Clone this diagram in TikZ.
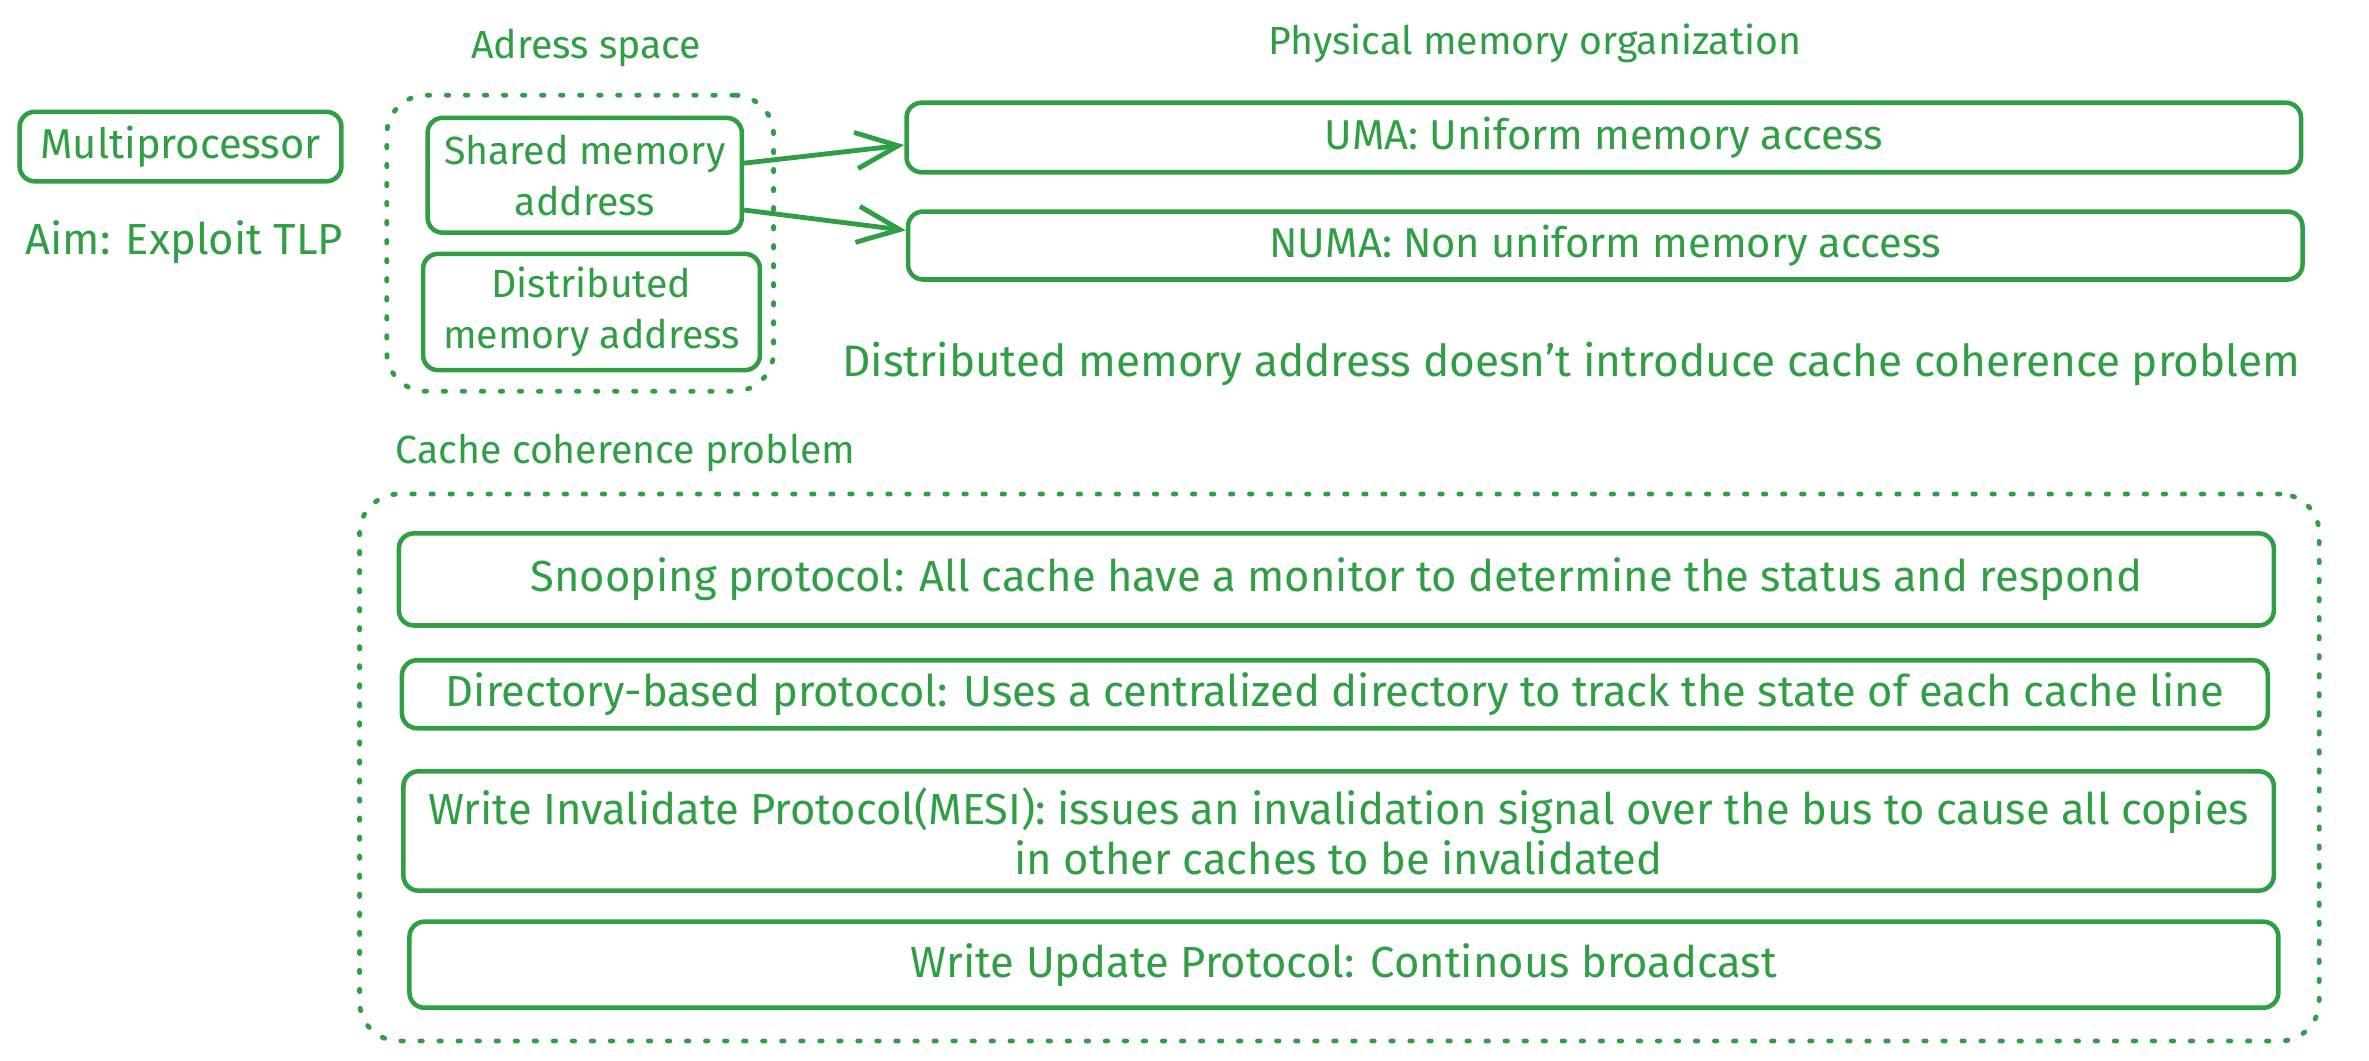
\documentclass[tikz,border=0pt]{standalone}
\usepackage{fontspec}
\setmainfont{Fira Sans}
\usetikzlibrary{arrows.meta}
\definecolor{xgreen}{HTML}{2F9E44}
\begin{document}
\begin{tikzpicture}[x=0.5pt,y=-0.5pt,
  every node/.style={text=xgreen,font=\fontsize{13}{17}\selectfont},
  midtxt/.style={font=\fontsize{13.8}{17}\selectfont},
  bigtxt/.style={font=\fontsize{14.4}{16.5}\selectfont},
  box/.style={draw=xgreen,line width=1.5pt,rounded corners=5pt,inner sep=0pt,align=center},
  dotbox/.style={draw=xgreen,line width=1.6pt,rounded corners=13pt,line cap=round,
    dash pattern=on 0.8pt off 5.5pt,inner sep=0pt},
  link/.style={draw=xgreen,line width=1.6pt,-{Straight Barb[length=14pt,width=12pt]}}]
\useasboundingbox (0,0) rectangle (1568,701.6);
% left column
\node[box,midtxt,minimum width=106.5pt,minimum height=23pt] (multiproc) at (119.5,97) {Multiprocessor};
\node[bigtxt] (aim) at (122,160) {Aim: Exploit TLP};
% address space
\node (spacelbl) at (388,32) {Adress space};
\node[dotbox,minimum width=128pt,minimum height=98pt] (spacebox) at (384,161) {};
\node[box,minimum width=104pt,minimum height=38pt] (shared) at (387,116) {Shared memory\\address};
\node[box,minimum width=111.5pt,minimum height=38.5pt] (distrib) at (391.5,206.5) {Distributed\\memory address};
% physical memory organization
\node (physlbl) at (1016,29) {Physical memory organization};
\node[box,midtxt,minimum width=461.5pt,minimum height=23pt] (uma) at (1061.5,91) {UMA: Uniform memory access};
\node[box,midtxt,minimum width=461.5pt,minimum height=22.5pt] (numa) at (1062.5,162.5) {NUMA: Non uniform memory access};
\node[font=\fontsize{14.6}{17}\selectfont] (note) at (1040,241)
  {Distributed memory address doesn't introduce cache coherence problem};
\draw[link] ([yshift=4pt]shared.east) -- ([yshift=-2.5pt]uma.west);
\draw[link] ([yshift=-11.5pt]shared.east) -- ([yshift=5pt]numa.west);
% cache coherence
\node (cohlbl) at (414,300) {Cache coherence problem};
\node[dotbox,minimum width=648.5pt,minimum height=181pt] (cohbox) at (886.5,508) {};
\node[box,bigtxt,minimum width=620.5pt,minimum height=30.5pt] (snoop) at (884.5,383.5)
  {Snooping protocol: All cache have a monitor to determine the status and respond};
\node[box,bigtxt,minimum width=617.5pt,minimum height=22.5pt] (direc) at (883.5,459.5)
  {Directory-based protocol: Uses a centralized directory to track the state of each cache line};
\node[box,bigtxt,minimum width=619pt,minimum height=39.5pt] (inval) at (886,550)
  {Write Invalidate Protocol(MESI): issues an invalidation signal over the bus to cause all copies\\in other caches to be invalidated};
\node[box,bigtxt,minimum width=618.5pt,minimum height=28.5pt] (update) at (889.5,638.5)
  {Write Update Protocol: Continous broadcast};
\end{tikzpicture}
\end{document}
